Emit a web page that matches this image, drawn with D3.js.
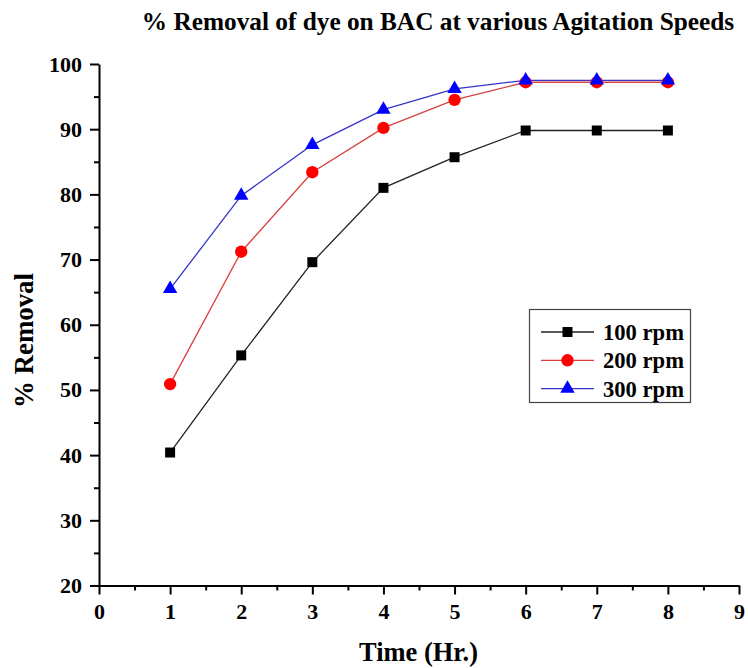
<!DOCTYPE html>
<html>
<head>
<meta charset="utf-8">
<script src="https://cdn.jsdelivr.net/npm/d3@7/dist/d3.min.js"></script>
<style>
  body { margin: 0; background: #fff; }
  text { font-family: "Liberation Serif", "Times New Roman", serif; font-weight: bold; }
</style>
</head>
<body>
<div id="chart"></div>
<script>
// data
const times = [1, 2, 3, 4, 5, 6, 7, 8];
const rpm100 = [40.4, 55.3, 69.6, 81.0, 85.7, 89.8, 89.8, 89.8];
const rpm200 = [50.9, 71.2, 83.4, 90.2, 94.5, 97.2, 97.2, 97.2];
const rpm300 = [65.5, 79.8, 87.6, 93.0, 96.2, 97.5, 97.5, 97.5];
const seriesNames = ["100 rpm", "200 rpm", "300 rpm"];
const xTicks = [0, 1, 2, 3, 4, 5, 6, 7, 8, 9];
const yTicks = [20, 30, 40, 50, 60, 70, 80, 90, 100];

const width = 748, height = 668;
const svg = d3.select("#chart").append("svg")
  .attr("width", width).attr("height", height);

const x = d3.scaleLinear().domain([0, 9]).range([99, 739]);
const y = d3.scaleLinear().domain([20, 100]).range([585.5, 64]);

// title
svg.append("text")
  .attr("x", 438).attr("y", 30)
  .attr("text-anchor", "middle")
  .style("font-size", "25.3px")
  .text("% Removal of dye on BAC at various Agitation Speeds");

// minor ticks
const xMinor = d3.range(0.5, 9, 1);
const yMinor = d3.range(25, 100, 10);
svg.append("g")
  .attr("transform", `translate(0,${y(20)})`)
  .call(d3.axisBottom(x).tickValues(xMinor).tickSize(5).tickFormat(""))
  .call(g => g.select(".domain").remove())
  .selectAll("line").attr("stroke", "#000").attr("stroke-width", 2);
svg.append("g")
  .attr("transform", `translate(${x(0)},0)`)
  .call(d3.axisLeft(y).tickValues(yMinor).tickSize(5).tickFormat(""))
  .call(g => g.select(".domain").remove())
  .selectAll("line").attr("stroke", "#000").attr("stroke-width", 2);

// major axes
const xAxis = svg.append("g")
  .attr("transform", `translate(0,${y(20)})`)
  .call(d3.axisBottom(x).tickValues(xTicks).tickSize(9).tickPadding(9).tickSizeOuter(0));
const yAxis = svg.append("g")
  .attr("transform", `translate(${x(0)},0)`)
  .call(d3.axisLeft(y).tickValues(yTicks).tickSize(9).tickPadding(8).tickSizeOuter(0));

[xAxis, yAxis].forEach(ax => {
  ax.select(".domain").attr("stroke", "#000").attr("stroke-width", 2);
  ax.selectAll(".tick line").attr("stroke", "#000").attr("stroke-width", 2);
  ax.selectAll(".tick text")
    .attr("fill", "#000")
    .style("font-size", "22px")
    .style("font-family", "'Liberation Serif', serif")
    .style("font-weight", "bold");
});

// axis labels
svg.append("text")
  .attr("x", 359).attr("y", 661)
  .attr("textLength", 119)
  .attr("lengthAdjust", "spacingAndGlyphs")
  .style("font-size", "28px")
  .text("Time (Hr.)");
svg.append("text")
  .attr("transform", "translate(33,408) rotate(-90)")
  .attr("textLength", 135)
  .attr("lengthAdjust", "spacingAndGlyphs")
  .style("font-size", "28px")
  .text("% Removal");

// series
const series = [
  { name: seriesNames[0], values: rpm100, line: "#222", fill: "#000", shape: d3.symbolSquare, size: 100 },
  { name: seriesNames[1], values: rpm200, line: "#d9403f", fill: "#ff0000", shape: d3.symbolCircle, size: 120 },
  { name: seriesNames[2], values: rpm300, line: "#3434c8", fill: "#0000ff", shape: d3.symbolTriangle, size: 90 }
];

const line = d3.line()
  .x((d, i) => x(times[i]))
  .y(d => y(d));

series.forEach(s => {
  svg.append("path")
    .datum(s.values)
    .attr("fill", "none")
    .attr("stroke", s.line)
    .attr("stroke-width", 1.3)
    .attr("d", line);
});

series.forEach(s => {
  svg.selectAll(null)
    .data(s.values)
    .enter()
    .append("path")
    .attr("d", d3.symbol().type(s.shape).size(s.size))
    .attr("transform", (d, i) => `translate(${x(times[i])},${y(d)})`)
    .attr("fill", s.fill);
});

// legend
const legend = svg.append("g");
legend.append("rect")
  .attr("x", 529.5).attr("y", 309.5)
  .attr("width", 161).attr("height", 93)
  .attr("fill", "#fff")
  .attr("stroke", "#444").attr("stroke-width", 1.2);

series.forEach((s, i) => {
  const ly = 332 + i * 28.3;
  legend.append("line")
    .attr("x1", 541).attr("x2", 594)
    .attr("y1", ly).attr("y2", ly)
    .attr("stroke", s.line).attr("stroke-width", 1.3);
  legend.append("path")
    .attr("d", d3.symbol().type(s.shape).size(s.size))
    .attr("transform", `translate(567.5,${ly})`)
    .attr("fill", s.fill);
  legend.append("text")
    .attr("x", 603).attr("y", ly + 8)
    .attr("textLength", 81)
    .attr("lengthAdjust", "spacingAndGlyphs")
    .style("font-size", "23px")
    .text(s.name);
});
</script>
</body>
</html>
